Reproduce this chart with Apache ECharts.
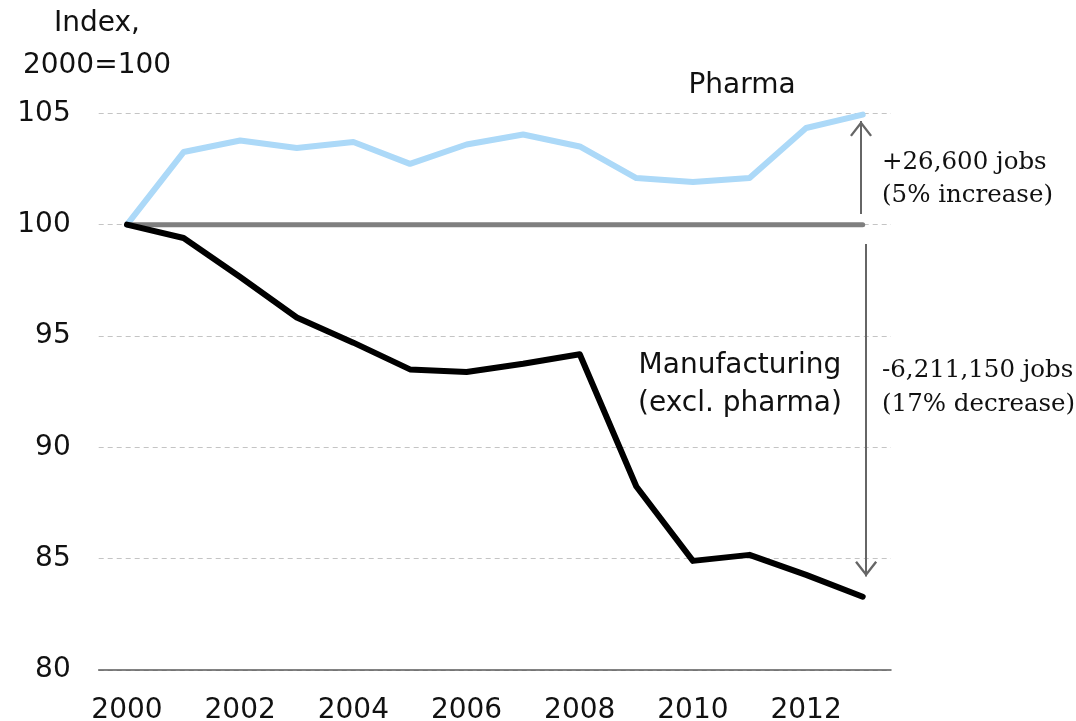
<!DOCTYPE html>
<html>
<head>
<meta charset="utf-8">
<script src="https://cdn.jsdelivr.net/npm/echarts@6/dist/echarts.min.js"></script>
<style>
html,body{margin:0;padding:0;background:#fff;}
#chart{width:1076px;height:721px;}
</style>
</head>
<body>
<div id="chart"></div>
<script>
const years = ['2000','2001','2002','2003','2004','2005','2006','2007','2008','2009','2010','2011','2012','2013'];
const pharma = [100, 103.26, 103.78, 103.44, 103.71, 102.73, 103.6, 104.05, 103.51, 102.09, 101.91, 102.09, 104.34, 104.94];
const manufacturing = [100, 99.4, 97.65, 95.83, 94.7, 93.5, 93.38, 93.75, 94.18, 88.24, 84.9, 85.17, 84.27, 83.29];
const baseline = [100, 100, 100, 100, 100, 100, 100, 100, 100, 100, 100, 100, 100, 100];
const yTicks = [80, 85, 90, 95, 100, 105];
const pharmaChange = { from: 100.48, to: 104.65, text: '+26,600 jobs\n(5% increase)' };
const manufChange = { from: 99.13, to: 84.2, text: '-6,211,150 jobs\n(17% decrease)' };

const SANS = '"DejaVu Sans", Verdana, sans-serif';
const SERIF = '"DejaVu Serif", Georgia, serif';
const chevron = 'path://M10,-14.3 L10.01,-14.3 Z M0,13 L10,0 L20,13 L18.3,14.3 L10,3.4 L1.7,14.3 Z';

const chart = echarts.init(document.getElementById('chart'), null, {renderer: 'canvas'});
const lastIdx = years.length - 1;

chart.setOption({
  animation: false,
  backgroundColor: '#ffffff',
  grid: { left: 98.7, right: 185, top: 113.3, bottom: 51, containLabel: false, outerBoundsMode: 'none' },
  xAxis: [{
    type: 'category',
    data: years,
    boundaryGap: true,
    axisLine: { show: true, lineStyle: { color: '#595959', width: 1.5 } },
    axisTick: { show: false },
    axisLabel: { interval: 1, margin: 27, fontFamily: SANS, fontSize: 28, color: '#111' },
    splitLine: { show: false }
  }, {
    type: 'value',
    min: -0.5,
    max: lastIdx + 0.5,
    show: false
  }],
  yAxis: {
    type: 'value',
    min: yTicks[0],
    max: yTicks[yTicks.length - 1],
    interval: yTicks[1] - yTicks[0],
    axisLine: { show: false },
    axisTick: { show: false },
    axisLabel: { margin: 28, fontFamily: SANS, fontSize: 28, color: '#111' },
    splitLine: { show: true, lineStyle: { color: '#c4c4c4', type: [5, 4], width: 1 } }
  },
  series: [
    {
      name: 'Pharma', type: 'line', data: pharma, symbol: 'none',
      lineStyle: { color: '#acd9f8', width: 6, cap: 'round', join: 'round' }, z: 3
    },
    {
      name: 'Baseline', type: 'line', data: baseline, symbol: 'none',
      lineStyle: { color: '#7f7f7f', width: 5, cap: 'round', join: 'round' }, z: 4
    },
    {
      name: 'Manufacturing (excl. pharma)', type: 'line', data: manufacturing, symbol: 'none',
      lineStyle: { color: '#000000', width: 6, cap: 'round', join: 'round' }, z: 5
    },
    {
      name: 'arrows', type: 'line', xAxisIndex: 1, data: [], symbol: 'none', silent: true,
      markLine: {
        silent: true, animation: false,
        symbol: ['none', chevron], symbolSize: [22, 31],
        label: { show: false },
        lineStyle: { color: '#666666', width: 2, type: 'solid' },
        emphasis: { disabled: true },
        data: [
          [{ coord: [lastIdx - 0.03, pharmaChange.from] }, { coord: [lastIdx - 0.03, pharmaChange.to] }],
          [{ coord: [lastIdx + 0.06, manufChange.from] }, { coord: [lastIdx + 0.06, manufChange.to] }]
        ]
      }
    }
  ],
  graphic: [
    { type: 'text', x: 97, y: 45, style: { text: 'Index,\n2000=100', font: '28px ' + SANS, fill: '#111', align: 'center', verticalAlign: 'middle', lineHeight: 42 } },
    { type: 'text', left: 882, top: 146, style: { text: pharmaChange.text, font: '24.5px ' + SERIF, fill: '#111', lineHeight: 33 } },
    { type: 'text', left: 882, top: 354, style: { text: manufChange.text, font: '24.5px ' + SERIF, fill: '#111', lineHeight: 34 } },
    { type: 'text', x: 742, y: 86, style: { text: 'Pharma', font: '28px ' + SANS, fill: '#111', align: 'center', verticalAlign: 'middle' } },
    { type: 'text', x: 740, y: 385, style: { text: 'Manufacturing\n(excl. pharma)', font: '28px ' + SANS, fill: '#111', align: 'center', verticalAlign: 'middle', lineHeight: 38 } }
  ]
});
</script>
</body>
</html>
